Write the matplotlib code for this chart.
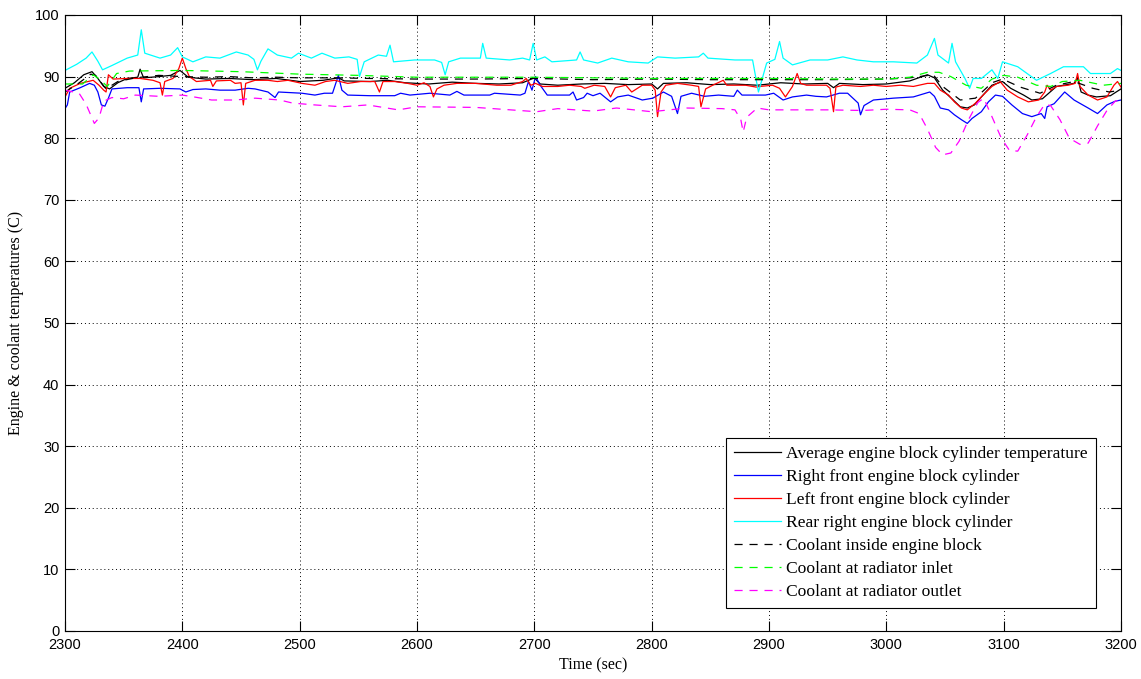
import matplotlib
matplotlib.use("Agg")
import matplotlib.pyplot as plt

# ---- measured temperatures (time in s, temperature in C) ----
t_avg = [2300, 2308, 2316, 2323, 2328, 2333, 2338, 2345, 2353, 2362, 2364, 2367, 2380, 2390,
         2398, 2405, 2420, 2440, 2460, 2480, 2500, 2520, 2533, 2538, 2560, 2575, 2590, 2610,
         2630, 2650, 2670, 2690, 2700, 2705, 2720, 2740, 2760, 2780, 2800, 2805, 2810, 2830,
         2850, 2870, 2890, 2910, 2930, 2950, 2955, 2960, 2980, 3000, 3020, 3035, 3041, 3048,
         3057, 3063, 3069, 3075, 3081, 3090, 3099, 3106, 3117, 3124, 3133, 3145, 3160, 3163,
         3166, 3172, 3179, 3191, 3200]
v_avg = [88.1, 89.0, 90.3, 90.8, 89.7, 88.4, 88.0, 89.0, 89.7, 89.9, 91.2, 89.8, 90.0, 90.2,
         91.0, 89.9, 89.6, 89.7, 89.5, 89.7, 89.2, 89.4, 89.8, 89.3, 89.2, 89.4, 89.0, 88.8,
         89.1, 88.9, 88.8, 89.0, 89.8, 88.8, 88.6, 88.8, 88.9, 88.7, 88.8, 88.0, 88.9, 89.0,
         88.7, 88.8, 88.6, 89.0, 88.8, 88.9, 88.2, 88.9, 88.7, 88.8, 89.3, 90.3, 89.8, 87.8,
         86.2, 85.1, 84.9, 85.4, 86.7, 88.6, 89.2, 88.1, 87.0, 86.2, 86.4, 88.4, 88.9, 89.8,
         87.5, 87.0, 86.7, 86.9, 88.0]

t_rf = [2300, 2302, 2304, 2313, 2321, 2325, 2328, 2331, 2334, 2337, 2340, 2353, 2363, 2365,
        2367, 2381, 2398, 2403, 2409, 2420, 2432, 2445, 2456, 2462, 2473, 2479, 2482, 2502,
        2513, 2521, 2528, 2533, 2536, 2541, 2560, 2581, 2586, 2594, 2611, 2628, 2634, 2640,
        2662, 2666, 2688, 2692, 2695, 2698, 2701, 2705, 2711, 2730, 2733, 2736, 2742, 2745,
        2750, 2756, 2765, 2771, 2780, 2792, 2801, 2810, 2817, 2822, 2825, 2834, 2845, 2857,
        2870, 2873, 2877, 2897, 2904, 2912, 2920, 2932, 2940, 2949, 2960, 2967, 2976, 2978,
        2981, 2989, 3006, 3023, 3037, 3041, 3046, 3053, 3058, 3064, 3069, 3073, 3081, 3087,
        3093, 3099, 3107, 3116, 3124, 3132, 3135, 3137, 3143, 3152, 3160, 3172, 3180, 3188,
        3195, 3200]
v_rf = [84.8, 85.4, 87.5, 88.2, 88.9, 88.6, 87.5, 85.4, 85.2, 86.5, 88.0, 88.2, 88.2, 85.9,
        88.0, 88.1, 88.0, 87.5, 87.9, 88.0, 87.8, 87.8, 88.1, 88.0, 87.5, 86.6, 87.5, 87.3,
        87.0, 87.3, 87.3, 90.2, 87.8, 87.0, 86.9, 86.9, 87.3, 87.0, 87.3, 87.0, 87.6, 87.0,
        87.0, 87.3, 87.0, 87.3, 89.2, 87.8, 90.0, 88.6, 87.0, 87.0, 87.5, 86.2, 86.6, 87.3,
        86.9, 87.3, 85.9, 86.7, 87.0, 86.2, 86.5, 87.5, 86.8, 84.0, 86.8, 87.3, 86.8, 87.0,
        86.8, 87.8, 87.0, 87.0, 87.3, 86.2, 86.7, 87.0, 86.8, 86.7, 87.3, 87.3, 85.7, 83.8,
        85.3, 86.2, 86.5, 86.7, 87.5, 86.8, 84.9, 84.6, 83.8, 83.0, 82.4, 83.2, 84.3, 85.9,
        87.0, 86.8, 85.4, 84.0, 83.5, 84.0, 83.2, 85.1, 85.6, 87.5, 86.2, 84.9, 84.0, 85.4,
        86.0, 86.2]

t_lf = [2300, 2304, 2313, 2324, 2329, 2333, 2335, 2337, 2341, 2353, 2364, 2375, 2381, 2383,
        2385, 2392, 2397, 2400, 2403, 2406, 2412, 2424, 2426, 2429, 2441, 2445, 2450, 2452,
        2454, 2462, 2473, 2481, 2490, 2502, 2513, 2522, 2530, 2541, 2552, 2564, 2568, 2571,
        2581, 2592, 2600, 2606, 2611, 2614, 2617, 2623, 2634, 2650, 2668, 2680, 2690, 2693,
        2697, 2701, 2707, 2720, 2730, 2740, 2743, 2751, 2760, 2765, 2769, 2778, 2783, 2792,
        2800, 2803, 2805, 2808, 2812, 2822, 2834, 2840, 2842, 2846, 2852, 2861, 2864, 2880,
        2889, 2892, 2903, 2909, 2914, 2920, 2924, 2927, 2932, 2949, 2952, 2955, 2957, 2963,
        2978, 2989, 3000, 3012, 3023, 3035, 3041, 3046, 3053, 3058, 3064, 3069, 3076, 3084,
        3090, 3097, 3103, 3112, 3121, 3130, 3135, 3137, 3140, 3145, 3155, 3161, 3163, 3165,
        3172, 3180, 3188, 3194, 3197, 3200]
v_lf = [86.7, 88.1, 88.9, 89.4, 88.6, 87.8, 87.5, 90.3, 89.6, 89.7, 89.7, 89.4, 89.0, 87.0,
        89.2, 89.7, 91.3, 93.0, 91.3, 90.0, 89.2, 89.4, 88.4, 89.3, 89.4, 88.9, 89.0, 85.4,
        88.9, 89.4, 89.4, 89.2, 89.4, 88.9, 88.6, 89.2, 89.4, 88.9, 89.2, 89.2, 87.5, 89.2,
        89.2, 88.9, 88.6, 89.0, 88.4, 86.7, 88.0, 88.6, 88.9, 88.9, 88.6, 88.6, 89.2, 89.7,
        88.6, 88.9, 88.4, 88.4, 88.6, 88.4, 88.1, 88.6, 88.4, 86.7, 88.2, 88.6, 87.5, 88.6,
        88.6, 87.8, 83.5, 87.5, 88.6, 88.9, 88.6, 88.4, 85.1, 88.0, 88.6, 89.4, 88.6, 88.6,
        88.3, 88.4, 88.6, 88.1, 86.7, 88.4, 90.5, 88.9, 88.6, 88.6, 88.1, 84.3, 88.3, 88.6,
        88.4, 88.6, 88.4, 88.6, 88.4, 88.9, 88.9, 87.8, 87.0, 85.9, 84.9, 84.6, 85.7, 87.3,
        88.4, 89.2, 87.8, 86.7, 85.9, 86.2, 87.5, 88.6, 87.8, 88.4, 88.6, 88.9, 90.5, 88.4,
        87.0, 86.2, 86.7, 88.6, 89.2, 88.3]

t_rr = [2300, 2310, 2318, 2323, 2328, 2332, 2340, 2353, 2362, 2365, 2368, 2381, 2390, 2396,
        2400, 2409, 2420, 2432, 2446, 2456, 2461, 2464, 2467, 2473, 2481, 2493, 2499, 2510,
        2519, 2530, 2542, 2549, 2551, 2555, 2567, 2574, 2577, 2580, 2598, 2615, 2621, 2624,
        2627, 2637, 2654, 2656, 2659, 2679, 2690, 2696, 2699, 2702, 2709, 2715, 2736, 2739,
        2742, 2754, 2766, 2780, 2797, 2805, 2820, 2840, 2844, 2848, 2871, 2886, 2891, 2894,
        2898, 2905, 2909, 2912, 2920, 2935, 2950, 2963, 2975, 2989, 3006, 3026, 3035, 3041,
        3044, 3053, 3056, 3059, 3067, 3071, 3074, 3081, 3090, 3095, 3099, 3112, 3128, 3140,
        3151, 3168, 3174, 3191, 3197, 3200]
v_rr = [91.0, 92.0, 93.0, 94.0, 92.5, 91.1, 91.8, 93.0, 93.5, 97.6, 93.8, 93.0, 93.5, 94.7,
        93.2, 92.4, 93.2, 93.0, 94.0, 93.5, 92.8, 91.1, 92.5, 94.5, 93.5, 93.0, 93.8, 93.0,
        93.8, 93.0, 93.2, 92.8, 90.0, 92.4, 93.5, 93.3, 95.1, 92.4, 92.7, 92.7, 92.3, 90.3,
        92.4, 93.0, 93.0, 95.4, 93.0, 92.7, 93.0, 92.7, 95.4, 92.7, 93.2, 92.4, 92.7, 94.0,
        92.7, 92.2, 93.0, 92.4, 92.2, 93.2, 93.0, 93.2, 93.8, 93.0, 92.7, 92.7, 87.5, 89.5,
        92.2, 92.8, 95.7, 93.0, 91.9, 92.7, 92.7, 93.2, 92.7, 92.4, 92.4, 92.2, 93.5, 96.2,
        93.5, 92.2, 95.4, 92.4, 89.7, 88.1, 89.7, 89.7, 91.1, 89.7, 92.4, 91.6, 89.4, 90.5,
        91.6, 91.6, 90.5, 90.5, 91.3, 91.0]

t_cb = [2300, 2310, 2322, 2326, 2335, 2345, 2360, 2380, 2400, 2420, 2440, 2460, 2480, 2500,
        2530, 2560, 2600, 2650, 2700, 2750, 2800, 2850, 2900, 2950, 3000, 3020, 3040, 3048,
        3063, 3076, 3090, 3099, 3114, 3131, 3145, 3160, 3176, 3190, 3200]
v_cb = [87.5, 88.7, 90.4, 90.2, 88.0, 89.2, 89.8, 90.2, 90.0, 89.9, 90.0, 89.8, 89.9, 89.8,
        89.8, 89.7, 89.6, 89.6, 89.7, 89.5, 89.6, 89.5, 89.5, 89.5, 89.6, 89.8, 90.3, 88.4,
        86.2, 86.5, 89.0, 89.6, 88.3, 87.3, 88.6, 89.2, 88.1, 87.5, 87.8]

t_ri = [2300, 2315, 2324, 2330, 2336, 2344, 2355, 2400, 2450, 2500, 2550, 2600, 2700, 2800,
        2900, 2960, 3000, 3020, 3035, 3045, 3055, 3068, 3081, 3090, 3100, 3112, 3128, 3140,
        3150, 3165, 3185, 3200]
v_ri = [88.8, 88.8, 90.3, 89.5, 88.4, 90.5, 90.9, 91.0, 90.8, 90.4, 90.2, 89.9, 89.9, 89.7,
        89.7, 89.6, 89.6, 89.9, 90.7, 90.7, 90.0, 88.6, 88.1, 89.6, 90.2, 89.9, 88.6, 88.4,
        89.2, 89.4, 88.6, 88.9]

t_ro = [2300, 2312, 2318, 2325, 2329, 2333, 2340, 2350, 2360, 2380, 2400, 2410, 2425, 2445,
        2462, 2483, 2494, 2513, 2536, 2558, 2584, 2600, 2650, 2702, 2720, 2750, 2770, 2800,
        2830, 2860, 2871, 2876, 2878, 2881, 2890, 2900, 2918, 2950, 2980, 3000, 3020, 3028,
        3035, 3042, 3048, 3055, 3062, 3070, 3078, 3083, 3090, 3098, 3105, 3112, 3120, 3128,
        3135, 3140, 3148, 3156, 3165, 3172, 3180, 3188, 3195, 3200]
v_ro = [87.8, 87.3, 85.5, 82.4, 83.3, 86.0, 86.6, 86.4, 87.0, 86.8, 87.0, 86.7, 86.2, 86.2,
        86.5, 86.2, 85.7, 85.4, 85.1, 85.4, 84.6, 85.1, 85.0, 84.3, 84.8, 84.4, 84.9, 84.3,
        84.9, 84.8, 84.6, 83.0, 81.0, 83.4, 84.9, 84.6, 84.6, 84.6, 84.5, 84.7, 84.6, 84.0,
        81.5, 78.5, 77.3, 77.6, 79.5, 83.0, 85.8, 86.5, 83.5, 80.0, 78.0, 77.9, 80.5, 83.5,
        85.5, 85.3, 83.0, 80.0, 79.0, 79.2, 82.0, 84.5, 86.0, 86.3]

series = [
    (t_avg, v_avg, "#000000", "-", "Average engine block cylinder temperature"),
    (t_rf, v_rf, "#0000ff", "-", "Right front engine block cylinder"),
    (t_lf, v_lf, "#ff0000", "-", "Left front engine block cylinder"),
    (t_rr, v_rr, "#00ffff", "-", "Rear right engine block cylinder"),
    (t_cb, v_cb, "#000000", "--", "Coolant inside engine block"),
    (t_ri, v_ri, "#00ff00", "--", "Coolant at radiator inlet"),
    (t_ro, v_ro, "#ff00ff", "--", "Coolant at radiator outlet"),
]

serif = ["Liberation Serif", "DejaVu Serif"]
sans = ["Liberation Sans", "DejaVu Sans"]

fig = plt.figure(figsize=(11.41, 6.79), dpi=100)
ax = fig.add_axes([65 / 1141, 48 / 679, 1056 / 1141, 616 / 679])

for t, v, c, ls, lab in series:
    kw = dict(color=c, lw=0.9, label=lab)
    if ls == "--":
        ax.plot(t, v, dashes=(6.5, 5.5), **kw)
    else:
        ax.plot(t, v, **kw)

ax.set_xlim(2300, 3200)
ax.set_ylim(0, 100)
ax.set_xticks(range(2300, 3201, 100))
ax.set_yticks(range(0, 101, 10))
ax.grid(True, color="k", linestyle=(0, (1, 3)), linewidth=0.7)
ax.tick_params(direction="in", top=True, right=True, length=7, width=0.8,
               labelsize=10.5)
ax.tick_params(axis="x", pad=5)
ax.tick_params(axis="y", pad=4)
for lbl in ax.get_xticklabels() + ax.get_yticklabels():
    lbl.set_family(sans)
for s in ax.spines.values():
    s.set_linewidth(0.8)
    s.set_color("k")

ax.set_xlabel("Time (sec)", family=serif, fontsize=11.5, labelpad=4)
ax.set_ylabel("Engine & coolant temperatures (C)", family=serif, fontsize=11.5, labelpad=8)

leg = ax.legend(loc="lower right", bbox_to_anchor=(0.976, 0.037), borderaxespad=0,
                prop={"family": serif, "size": 12.6}, fancybox=False, framealpha=1,
                edgecolor="k", handlelength=2.7, labelspacing=0.39, borderpad=0.45,
                handletextpad=0.3)
leg.get_frame().set_linewidth(0.8)

fig.savefig("out.png", dpi=100)
